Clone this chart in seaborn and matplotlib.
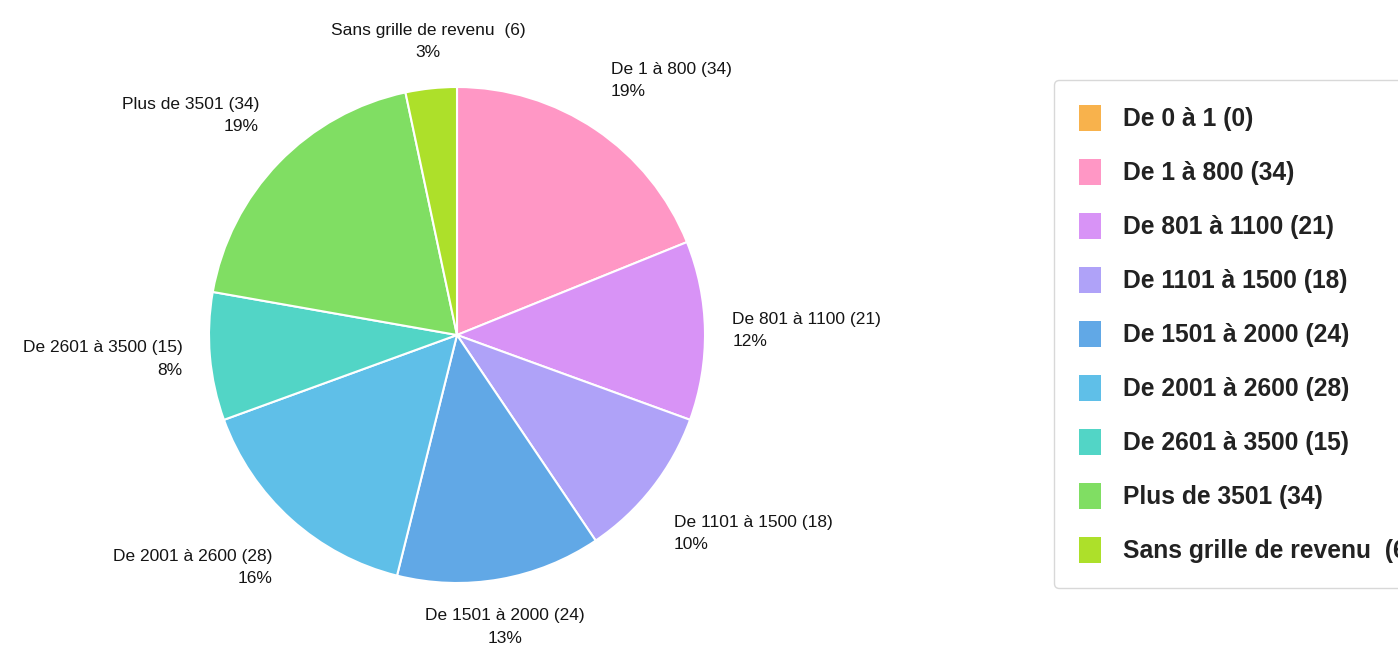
import numpy as np
import matplotlib
matplotlib.use("Agg")
import matplotlib.pyplot as plt
from matplotlib.patches import Patch
import seaborn as sns

categories = ["De 0 à 1", "De 1 à 800", "De 801 à 1100", "De 1101 à 1500",
              "De 1501 à 2000", "De 2001 à 2600", "De 2601 à 3500",
              "Plus de 3501", "Sans grille de revenu "]
counts = [0, 34, 21, 18, 24, 28, 15, 34, 6]
colors = ["#F8B24C", "#FF97C5", "#D893F6", "#AFA2F8", "#61A8E6",
          "#5FBFE8", "#52D5C6", "#80DE63", "#ADE02A"]

sns.set_theme(style="white")
plt.rcParams['font.family'] = ['Liberation Sans', 'DejaVu Sans']

W, H = 1398, 645
fig = plt.figure(figsize=(W / 100, H / 100), dpi=100)
fig.patch.set_facecolor("white")

cx, cy, R = 457, 310, 248
ax = fig.add_axes([(cx - R) / W, (cy - R) / H, 2 * R / W, 2 * R / H])

total = sum(counts)
vals = [c for c in counts if c > 0]
cols = [col for c, col in zip(counts, colors) if c > 0]
labs = [f"{cat} ({c})" for cat, c in zip(categories, counts) if c > 0]

wedges, _ = ax.pie(vals, colors=cols, startangle=90, counterclock=False,
                   radius=1, wedgeprops=dict(edgecolor="white", linewidth=1.5))
ax.set_xlim(-1, 1)
ax.set_ylim(-1, 1)
ax.axis("off")

for w, lab, v in zip(wedges, labs, vals):
    ang = np.deg2rad((w.theta1 + w.theta2) / 2)
    c, s = np.cos(ang), np.sin(ang)
    r = 1.11
    x, y = r * c, r * s
    if abs(c) < 0.2:
        ha = "center"
    elif c > 0:
        ha = "left"
    else:
        ha = "right"
    if s > 0.5:
        va = "bottom"
        y += 0.055 * abs(c)
    elif s < -0.5:
        va = "top"
        y -= 0.055 * abs(c)
    else:
        va = "center"
    pct = round(100 * v / total)
    ax.text(x, y, f"{lab}\n{pct}%", ha=ha, va=va, fontsize=12.5,
            color="#151515", linespacing=1.6, clip_on=False)

handles = [Patch(facecolor=col, edgecolor="none") for col in colors]
leg_labels = [f"{cat} ({c})" for cat, c in zip(categories, counts)]
leg = fig.legend(handles, leg_labels, loc="upper left",
                 bbox_to_anchor=(1054 / W, 1 - 80 / H),
                 bbox_transform=fig.transFigure,
                 prop=dict(family=['Liberation Sans', 'DejaVu Sans'], weight="bold", size=17.7),
                 handlelength=0.9, handleheight=1.25, handletextpad=0.9,
                 labelspacing=1.13, borderpad=1.0, borderaxespad=0,
                 frameon=True, fancybox=True, framealpha=1,
                 edgecolor="#d8d8d8", facecolor="white")
for t in leg.get_texts():
    t.set_color("#222222")
leg.get_frame().set_linewidth(1.0)

fig.savefig("out.png", dpi=100)
